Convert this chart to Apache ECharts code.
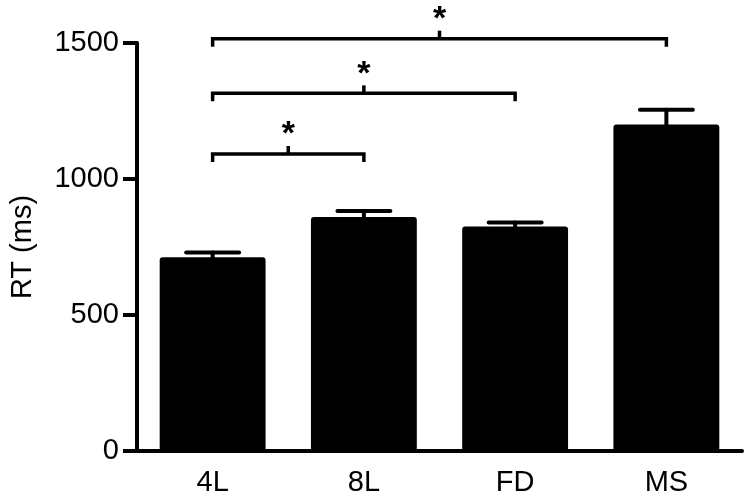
<!DOCTYPE html>
<html>
<head>
<meta charset="utf-8">
<script src="https://cdn.jsdelivr.net/npm/echarts@6/dist/echarts.min.js"></script>
<style>
  html, body { margin: 0; padding: 0; background: #fff; }
  #chart { width: 748px; height: 497px; }
</style>
</head>
<body>
<div id="chart"></div>
<script>
// data
var categories = ['4L', '8L', 'FD', 'MS'];
var rtMeans = [712, 860, 825, 1200];
var rtErrors = [18, 22, 15, 55];
// significance brackets: from category, to category, height (ms), label
var bracketFrom = [0, 0, 0];
var bracketTo = [3, 2, 1];
var bracketLevel = [1516, 1315, 1092];
var bracketLabel = ['*', '*', '*'];

var FONT = 'Liberation Sans, Arial, sans-serif';

var errData = categories.map(function (c, i) {
    return [i, rtMeans[i], rtErrors[i]];
});
var bracketData = bracketFrom.map(function (f, i) {
    return [f, bracketTo[i], bracketLevel[i]];
});

var chart = echarts.init(document.getElementById('chart'));
chart.setOption({
    animation: false,
    grid: { left: 130, right: 6, top: 43, bottom: 45 },
    xAxis: {
        type: 'category',
        data: categories,
        axisLine: { lineStyle: { color: '#000', width: 4, cap: 'round' } },
        axisTick: { show: false },
        axisLabel: { color: '#000', fontSize: 29, fontFamily: FONT, margin: 17 }
    },
    yAxis: {
        type: 'value',
        min: 0,
        max: 1500,
        interval: 500,
        name: 'RT (ms)',
        nameLocation: 'middle',
        nameGap: 100,
        nameTextStyle: { color: '#000', fontSize: 29, fontFamily: FONT },
        splitLine: { show: false },
        axisLine: { show: true, lineStyle: { color: '#000', width: 4 } },
        axisTick: { show: true, length: 14, lineStyle: { color: '#000', width: 4 } },
        axisLabel: {
            color: '#000', fontSize: 29, fontFamily: FONT, margin: 18,
            formatter: function (v) { return String(v); }
        }
    },
    series: [
        {
            type: 'bar',
            data: rtMeans,
            barCategoryGap: '30%',
            itemStyle: { color: '#000', borderRadius: 3 }
        },
        {
            // upward error bars
            type: 'custom',
            data: errData,
            z: 3,
            renderItem: function (params, api) {
                var x = api.value(0);
                var top = api.coord([x, api.value(1) + api.value(2)]);
                var base = api.coord([x, api.value(1)]);
                var half = api.size([1, 0])[0] * 0.175;
                var st = { stroke: '#000', fill: null, lineWidth: 4, lineCap: 'round' };
                return {
                    type: 'group',
                    children: [
                        { type: 'line', shape: { x1: top[0], y1: top[1], x2: base[0], y2: base[1] }, style: st },
                        { type: 'line', shape: { x1: top[0] - half, y1: top[1], x2: top[0] + half, y2: top[1] }, style: st }
                    ]
                };
            }
        },
        {
            // significance brackets
            type: 'custom',
            data: bracketData,
            clip: false,
            encode: { x: [0, 1], y: 2 },
            renderItem: function (params, api) {
                var a = api.coord([api.value(0), api.value(2)]);
                var b = api.coord([api.value(1), api.value(2)]);
                var mid = (a[0] + b[0]) / 2;
                var y = a[1];
                var st = { stroke: '#000', fill: null, lineWidth: 3.5 };
                return {
                    type: 'group',
                    children: [
                        { type: 'polyline', shape: { points: [[a[0], y + 8], [a[0], y], [b[0], y], [b[0], y + 8]] }, style: st },
                        { type: 'line', shape: { x1: mid, y1: y, x2: mid, y2: y - 8 }, style: st },
                        {
                            type: 'text',
                            x: mid, y: y - 19,
                            style: {
                                text: bracketLabel[params.dataIndex],
                                fill: '#000',
                                font: 'bold 34px ' + FONT,
                                align: 'center',
                                verticalAlign: 'middle'
                            }
                        }
                    ]
                };
            }
        }
    ]
});
</script>
</body>
</html>
